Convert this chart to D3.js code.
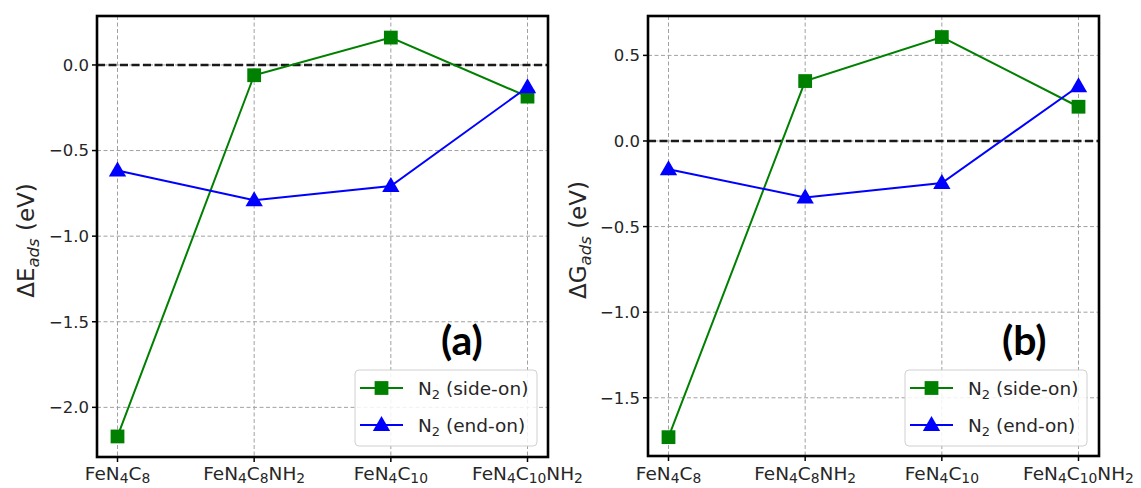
<!DOCTYPE html>
<html>
<head>
<meta charset="utf-8">
<script src="https://cdn.jsdelivr.net/npm/d3@7"></script>
<style>
  body { margin: 0; background: #fff; }
  svg { display: block; }
</style>
</head>
<body>
<div id="chart"></div>
<script>

// categories (use _{..} for subscripts)
var categories = ["FeN_{4}C_{8}", "FeN_{4}C_{8}NH_{2}", "FeN_{4}C_{10}", "FeN_{4}C_{10}NH_{2}"];

// panel (a): adsorption energy
var sideOnE = [-2.17, -0.06, 0.16, -0.185];
var endOnE = [-0.617, -0.79, -0.707, -0.13];
var ticksE = [0.0, -0.5, -1.0, -1.5, -2.0];

// panel (b): adsorption free energy
var sideOnG = [-1.73, 0.35, 0.607, 0.2];
var endOnG = [-0.165, -0.33, -0.246, 0.32];
var ticksG = [0.5, 0.0, -0.5, -1.0, -1.5];

var seriesNames = ["N_{2} (side-on)", "N_{2} (end-on)"];

var width = 1141, height = 488;
var green = "#008000", blue = "#0000ff";
var font = "'DejaVu Sans', sans-serif";

var svg = d3.select("#chart").append("svg")
    .attr("width", width)
    .attr("height", height);

// write a string with _{..} subscripts into a text element
function richText(sel, str, size, italicSub, subScale, drop) {
    subScale = subScale || 0.7;
    drop = drop || 0.22;
    var parts = str.split(/(_\{[^}]*\})/).filter(function (s) { return s.length > 0; });
    var shift = 0;
    parts.forEach(function (p) {
        if (p.indexOf("_{") === 0) {
            var t = sel.append("tspan").text(p.slice(2, -1))
                .attr("font-size", size * subScale)
                .attr("dy", size * drop - shift);
            if (italicSub) t.attr("font-style", "italic");
            shift = size * drop;
        } else {
            sel.append("tspan").text(p)
                .attr("font-size", size)
                .attr("dy", -shift);
            shift = 0;
        }
    });
}

function fmt(v) {
    return d3.format(".1f")(v).replace("-", "\u2212");
}

function drawPanel(p) {
    var g = svg.append("g");

    var xScale = d3.scaleLinear().domain([-0.15, categories.length - 1 + 0.15]).range([p.x0, p.x1]);
    var yScale = d3.scaleLinear().domain(p.domain).range([p.y1, p.y0]);

    // grid
    g.selectAll(".vgrid").data(categories).enter().append("line")
        .attr("x1", function (d, i) { return xScale(i); })
        .attr("x2", function (d, i) { return xScale(i); })
        .attr("y1", p.y0).attr("y2", p.y1)
        .attr("stroke", "#a0a0a0").attr("stroke-width", 1)
        .attr("stroke-dasharray", "4,2.5");

    g.selectAll(".hgrid").data(p.ticks).enter().append("line")
        .attr("x1", p.x0).attr("x2", p.x1)
        .attr("y1", function (d) { return yScale(d); })
        .attr("y2", function (d) { return yScale(d); })
        .attr("stroke", "#a0a0a0").attr("stroke-width", 1)
        .attr("stroke-dasharray", "4,2.5");

    // zero line
    g.append("line")
        .attr("x1", p.x0).attr("x2", p.x1)
        .attr("y1", yScale(0)).attr("y2", yScale(0))
        .attr("stroke", "#1a1a1a").attr("stroke-width", 2.4)
        .attr("stroke-dasharray", "8,3.5");

    var line = d3.line()
        .x(function (d, i) { return xScale(i); })
        .y(function (d) { return yScale(d); });

    g.append("path").attr("d", line(p.sideOn))
        .attr("fill", "none").attr("stroke", green).attr("stroke-width", 2);
    g.append("path").attr("d", line(p.endOn))
        .attr("fill", "none").attr("stroke", blue).attr("stroke-width", 2);

    var sq = d3.symbol().type(d3.symbolSquare).size(190);
    var tri = d3.symbol().type(d3.symbolTriangle).size(130);

    g.selectAll(".sq").data(p.sideOn).enter().append("path")
        .attr("d", sq)
        .attr("transform", function (d, i) { return "translate(" + xScale(i) + "," + yScale(d) + ")"; })
        .attr("fill", green);

    g.selectAll(".tri").data(p.endOn).enter().append("path")
        .attr("d", tri)
        .attr("transform", function (d, i) { return "translate(" + xScale(i) + "," + (yScale(d) + 1) + ")"; })
        .attr("fill", blue);

    // frame
    g.append("rect")
        .attr("x", p.x0).attr("y", p.y0)
        .attr("width", p.x1 - p.x0).attr("height", p.y1 - p.y0)
        .attr("fill", "none").attr("stroke", "#000").attr("stroke-width", 2.6);

    // y ticks
    p.ticks.forEach(function (t) {
        g.append("line")
            .attr("x1", p.x0 - 5).attr("x2", p.x0)
            .attr("y1", yScale(t)).attr("y2", yScale(t))
            .attr("stroke", "#000").attr("stroke-width", 1.5);
        g.append("text")
            .attr("x", p.x0 - 8).attr("y", yScale(t))
            .attr("dy", "0.36em")
            .attr("text-anchor", "end")
            .attr("font-family", font).attr("font-size", 16.5)
            .attr("fill", "#262626")
            .text(fmt(t));
    });

    // x ticks
    categories.forEach(function (c, i) {
        g.append("line")
            .attr("x1", xScale(i)).attr("x2", xScale(i))
            .attr("y1", p.y1).attr("y2", p.y1 + 5)
            .attr("stroke", "#000").attr("stroke-width", 1.5);
        var t = g.append("text")
            .attr("x", xScale(i)).attr("y", 480)
            .attr("text-anchor", "middle")
            .attr("font-family", font)
            .attr("fill", "#262626");
        richText(t, c, 18.5, false, 0.75, 0.17);
    });

    // y label
    var yl = g.append("text")
        .attr("transform", "translate(" + p.labelX + "," + ((p.y0 + p.y1) / 2 + 4) + ") rotate(-90)")
        .attr("text-anchor", "middle")
        .attr("font-family", font)
        .attr("fill", "#262626");
    richText(yl, p.ylabel, 23, true, 0.72, 0.22);

    // panel letter
    g.append("text")
        .attr("x", p.letterX).attr("y", 355)
        .attr("font-family", "Lato, 'Open Sans', sans-serif")
        .attr("font-weight", "bold")
        .attr("font-size", 41)
        .attr("fill", "#000")
        .text(p.letter);

    // legend
    var lg = g.append("g").attr("transform", "translate(" + p.legendX + ",370)");
    lg.append("rect")
        .attr("width", 182).attr("height", 76)
        .attr("rx", 4)
        .attr("fill", "#fff").attr("fill-opacity", 0.85)
        .attr("stroke", "#d0d0d0").attr("stroke-width", 1);

    var colors = [green, blue];
    var syms = [sq, tri];
    seriesNames.forEach(function (name, k) {
        var cy = 18 + k * 37;
        lg.append("line")
            .attr("x1", 5).attr("x2", 48)
            .attr("y1", cy).attr("y2", cy)
            .attr("stroke", colors[k]).attr("stroke-width", 2);
        lg.append("path")
            .attr("d", syms[k])
            .attr("transform", "translate(26.5," + (cy + (k === 1 ? 1 : 0)) + ")")
            .attr("fill", colors[k]);
        var t = lg.append("text")
            .attr("x", 63).attr("y", cy + 7)
            .attr("font-family", font)
            .attr("fill", "#262626");
        richText(t, name, 18.5, false);
    });
}

drawPanel({
    x0: 97, x1: 548, y0: 16, y1: 457,
    domain: [-2.29, 0.286],
    ticks: ticksE,
    sideOn: sideOnE, endOn: endOnE,
    ylabel: "\u0394E_{ads} (eV)",
    labelX: 34,
    letter: "(a)", letterX: 441,
    legendX: 355
});

drawPanel({
    x0: 648, x1: 1099, y0: 16, y1: 456,
    domain: [-1.84, 0.73],
    ticks: ticksG,
    sideOn: sideOnG, endOn: endOnG,
    ylabel: "\u0394G_{ads} (eV)",
    labelX: 586,
    letter: "(b)", letterX: 1002,
    legendX: 905
});

</script>
</body>
</html>
